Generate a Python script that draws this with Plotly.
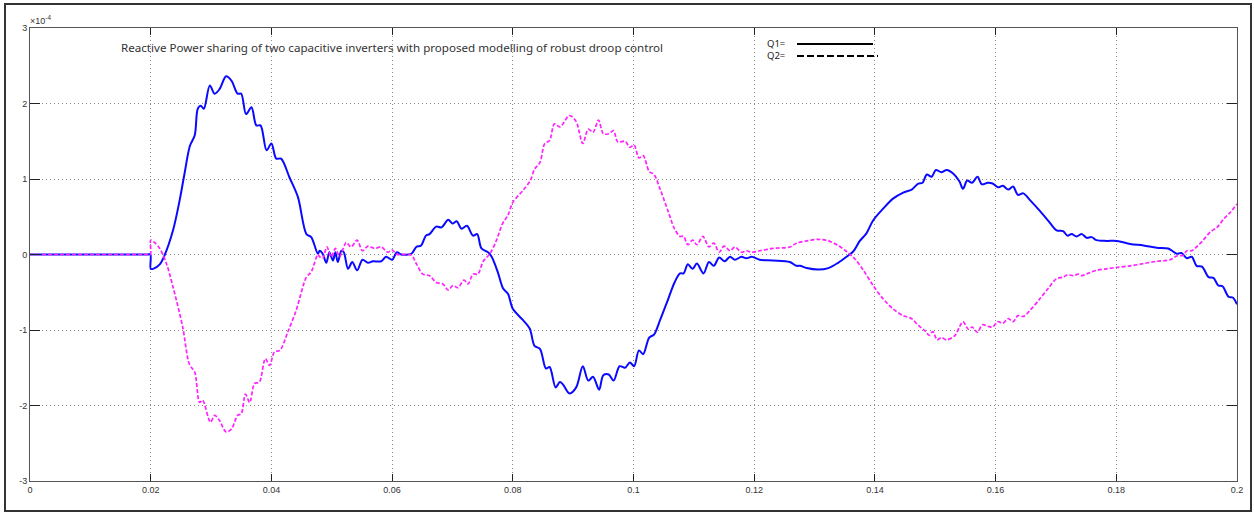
import plotly.graph_objects as go

# ---------------- data (values in units of 1e-4) ----------------
t_q1 = [0.0, 0.005, 0.010, 0.015, 0.0195, 0.01995, 0.0200, 0.0204, 0.0215, 0.0223, 0.0237, 0.0248, 0.0256, 0.0265,
        0.0273, 0.0278, 0.0283, 0.0288, 0.0298, 0.0306, 0.0314, 0.0325, 0.0334, 0.0344,
        0.0350, 0.0358, 0.0367, 0.0375, 0.0382, 0.0392, 0.0400, 0.0408, 0.0416, 0.0430,
        0.0444, 0.0458, 0.0466, 0.0477, 0.0480, 0.0485, 0.0491, 0.0496, 0.0502, 0.0506,
        0.0510, 0.0516, 0.0520, 0.0527, 0.0534, 0.0542, 0.0551, 0.0560, 0.0568, 0.0582,
        0.0590, 0.0600, 0.0608, 0.0615, 0.0632, 0.0640, 0.0648, 0.0656, 0.0662, 0.0673,
        0.0682, 0.0693, 0.0700, 0.0707, 0.0715, 0.0724, 0.0734, 0.0741, 0.0748, 0.0759,
        0.0765, 0.0775, 0.0784, 0.0792, 0.0800, 0.0817, 0.0828, 0.0836, 0.0845, 0.0855,
        0.0861, 0.0871, 0.0878, 0.0883, 0.0894, 0.0905, 0.0916, 0.0925, 0.0933, 0.0943,
        0.0950, 0.0959, 0.0967, 0.0977, 0.0986, 0.0994, 0.1001, 0.1009, 0.1016, 0.1026,
        0.1034, 0.1044, 0.1057, 0.1068, 0.1077, 0.1083, 0.1090, 0.1098, 0.1105, 0.1116,
        0.1125, 0.1133, 0.1142, 0.1151, 0.1160, 0.1168, 0.1179, 0.1187, 0.1196, 0.1209,
        0.1231, 0.1259, 0.1270, 0.1276, 0.1287, 0.1306, 0.1323, 0.1339, 0.1353, 0.1364,
        0.1375, 0.1386, 0.1397, 0.1414, 0.1430, 0.1447, 0.1461, 0.1472, 0.1479, 0.1486,
        0.1494, 0.1501, 0.1510, 0.1519, 0.1530, 0.1540, 0.1546, 0.1553, 0.1561, 0.1570,
        0.1577, 0.1587, 0.1595, 0.1604, 0.1612, 0.1621, 0.1629, 0.1637, 0.1646, 0.1657,
        0.1673, 0.1687, 0.1701, 0.1712, 0.1719, 0.1726, 0.1734, 0.1743, 0.1751, 0.1759,
        0.1767, 0.1784, 0.1801, 0.1823, 0.1845, 0.1867, 0.1886, 0.1894, 0.1900, 0.1908,
        0.1917, 0.1925, 0.1933, 0.1942, 0.1953, 0.1961, 0.1969, 0.1976, 0.1986, 0.1993,
        0.2000]
q1 = [0.0, 0.0, 0.0, 0.0, 0.0, 0.0, -0.19, -0.19, -0.13, -0.01, 0.32, 0.72, 1.07, 1.44,
      1.58, 1.93, 1.97, 1.93, 2.24, 2.13, 2.19, 2.36, 2.30, 2.13,
      2.13, 1.86, 1.95, 1.71, 1.71, 1.38, 1.47, 1.27, 1.27, 1.02,
      0.76, 0.27, 0.23, 0.01, 0.05, 0.01, -0.11, 0.03, -0.08, 0.03,
      -0.10, 0.05, 0.03, -0.19, -0.10, -0.21, -0.07, -0.11, -0.09, -0.09,
      -0.03, -0.07, 0.03, 0.00, 0.01, 0.10, 0.12, 0.25, 0.27, 0.37,
      0.36, 0.46, 0.41, 0.44, 0.34, 0.38, 0.25, 0.27, 0.08, 0.03,
      -0.03, -0.23, -0.45, -0.52, -0.72, -0.87, -0.98, -1.21, -1.25, -1.51,
      -1.49, -1.76, -1.69, -1.72, -1.84, -1.76, -1.48, -1.67, -1.62, -1.79,
      -1.60, -1.59, -1.67, -1.48, -1.50, -1.43, -1.48, -1.27, -1.32, -1.10,
      -1.06, -0.87, -0.60, -0.37, -0.25, -0.25, -0.13, -0.19, -0.12, -0.25,
      -0.10, -0.15, -0.04, -0.09, -0.03, -0.07, -0.03, -0.05, -0.03, -0.07,
      -0.08, -0.10, -0.15, -0.15, -0.18, -0.20, -0.18, -0.11, -0.03, 0.04,
      0.18, 0.28, 0.45, 0.61, 0.74, 0.82, 0.86, 0.94, 0.95, 1.06,
      1.03, 1.12, 1.09, 1.12, 1.07, 0.97, 0.87, 0.98, 0.95, 1.03,
      0.93, 0.95, 0.94, 0.89, 0.91, 0.86, 0.90, 0.79, 0.81, 0.72,
      0.58, 0.45, 0.32, 0.31, 0.25, 0.27, 0.24, 0.27, 0.22, 0.23,
      0.19, 0.18, 0.18, 0.14, 0.12, 0.09, 0.08, 0.04, 0.01, 0.02,
      -0.05, -0.03, -0.15, -0.16, -0.30, -0.31, -0.41, -0.42, -0.56, -0.57,
      -0.66]

t_q2 = [0.0, 0.005, 0.010, 0.015, 0.0195, 0.01995, 0.0200, 0.0206, 0.0215, 0.0226, 0.0237, 0.0253, 0.0264, 0.0273,
        0.0281, 0.0286, 0.0299, 0.0306, 0.0314, 0.0325, 0.0334, 0.0344, 0.0350, 0.0357,
        0.0364, 0.0372, 0.0380, 0.0390, 0.0397, 0.0405, 0.0414, 0.0427, 0.0441, 0.0458,
        0.0466, 0.0477, 0.0480, 0.0485, 0.0492, 0.0499, 0.0506, 0.0513, 0.0519, 0.0524,
        0.0532, 0.0542, 0.0551, 0.0560, 0.0571, 0.0582, 0.0593, 0.0600, 0.0608, 0.0615,
        0.0632, 0.0640, 0.0651, 0.0662, 0.0673, 0.0684, 0.0693, 0.0701, 0.0709, 0.0719,
        0.0726, 0.0734, 0.0742, 0.0751, 0.0762, 0.0773, 0.0783, 0.0792, 0.0800, 0.0817,
        0.0829, 0.0836, 0.0845, 0.0853, 0.0861, 0.0869, 0.0878, 0.0894, 0.0905, 0.0916,
        0.0925, 0.0933, 0.0942, 0.0950, 0.0959, 0.0967, 0.0974, 0.0986, 0.0994, 0.1001,
        0.1009, 0.1016, 0.1026, 0.1034, 0.1044, 0.1057, 0.1068, 0.1077, 0.1083, 0.1090,
        0.1098, 0.1105, 0.1115, 0.1125, 0.1133, 0.1142, 0.1150, 0.1160, 0.1168, 0.1179,
        0.1187, 0.1196, 0.1209, 0.1231, 0.1259, 0.1270, 0.1287, 0.1306, 0.1323, 0.1339,
        0.1353, 0.1367, 0.1381, 0.1397, 0.1414, 0.1430, 0.1447, 0.1461, 0.1472, 0.1483,
        0.1490, 0.1496, 0.1503, 0.1510, 0.1519, 0.1533, 0.1540, 0.1546, 0.1555, 0.1561,
        0.1570, 0.1578, 0.1587, 0.1595, 0.1604, 0.1612, 0.1621, 0.1629, 0.1637, 0.1646,
        0.1657, 0.1673, 0.1687, 0.1701, 0.1712, 0.1719, 0.1729, 0.1737, 0.1743, 0.1753,
        0.1767, 0.1784, 0.1801, 0.1823, 0.1845, 0.1867, 0.1889, 0.1900, 0.1911, 0.1917,
        0.1925, 0.1933, 0.1944, 0.1956, 0.1967, 0.1978, 0.1989, 0.2000]
q2 = [0.0, 0.0, 0.0, 0.0, 0.0, 0.0, 0.19, 0.16, 0.08, -0.12, -0.43, -0.96, -1.45, -1.56,
      -1.96, -1.93, -2.22, -2.13, -2.20, -2.35, -2.31, -2.13, -2.11, -1.85,
      -1.96, -1.71, -1.69, -1.38, -1.47, -1.29, -1.27, -1.03, -0.74, -0.30,
      -0.23, 0.00, -0.03, -0.05, 0.10, -0.03, 0.08, -0.03, 0.08, 0.16,
      0.10, 0.19, 0.05, 0.11, 0.08, 0.10, 0.03, 0.06, 0.00, 0.00,
      -0.01, -0.12, -0.26, -0.28, -0.37, -0.39, -0.47, -0.41, -0.44, -0.34,
      -0.39, -0.26, -0.26, -0.09, 0.01, 0.19, 0.41, 0.52, 0.69, 0.85,
      0.98, 1.13, 1.22, 1.47, 1.51, 1.73, 1.69, 1.84, 1.76, 1.47,
      1.66, 1.62, 1.78, 1.60, 1.60, 1.64, 1.49, 1.50, 1.42, 1.45,
      1.28, 1.31, 1.10, 1.06, 0.87, 0.58, 0.34, 0.24, 0.24, 0.13,
      0.19, 0.13, 0.24, 0.10, 0.15, 0.03, 0.11, 0.05, 0.10, 0.03,
      0.05, 0.03, 0.05, 0.08, 0.10, 0.15, 0.18, 0.20, 0.18, 0.12,
      0.04, -0.06, -0.21, -0.41, -0.59, -0.72, -0.81, -0.85, -0.94, -1.01,
      -1.07, -1.02, -1.13, -1.10, -1.13, -1.07, -0.96, -0.89, -0.99, -0.96,
      -1.03, -0.93, -0.95, -0.96, -0.89, -0.91, -0.85, -0.89, -0.81, -0.82,
      -0.74, -0.59, -0.45, -0.32, -0.30, -0.27, -0.28, -0.26, -0.28, -0.25,
      -0.21, -0.19, -0.17, -0.15, -0.12, -0.09, -0.07, -0.02, -0.01, 0.05,
      0.05, 0.10, 0.19, 0.30, 0.36, 0.47, 0.56, 0.67]

x_ticks = [0, 0.02, 0.04, 0.06, 0.08, 0.1, 0.12, 0.14, 0.16, 0.18, 0.2]
x_tick_labels = ["0", "0.02", "0.04", "0.06", "0.08", "0.1", "0.12", "0.14", "0.16", "0.18", "0.2"]
y_ticks = [-3, -2, -1, 0, 1, 2, 3]
y_tick_labels = ["-3", "-2", "-1", "0", "1", "2", "3"]
title_text = "Reactive Power sharing of two capacitive inverters with proposed modelling of robust droop control"
legend_labels = ["Q1=", "Q2="]
exponent_label = "\u00d710<sup>-4</sup>"

# ---------------- layout geometry ----------------
W, H = 1254, 513
L, R, T, B = 30, 17, 28, 32
pw, ph = W - L - R, H - T - B


def px(x):
    return (x - L) / pw


def py(y):
    return 1 - (y - T) / ph


fig = go.Figure()
fig.add_trace(go.Scatter(
    x=t_q1, y=q1, mode="lines", name="Q1",
    line=dict(color="#0a0aff", width=2, shape="spline", smoothing=0.9),
    showlegend=False, hoverinfo="skip"))
fig.add_trace(go.Scatter(
    x=t_q2, y=q2, mode="lines", name="Q2",
    line=dict(color="#ff22ff", width=1.7, dash="4px,2px", shape="spline", smoothing=0.9),
    showlegend=False, hoverinfo="skip"))

axis_font = dict(family="Liberation Sans, Arial, sans-serif", size=9, color="#333")

fig.update_xaxes(
    range=[0, 0.2], tickvals=x_ticks, ticktext=x_tick_labels,
    showgrid=True, gridcolor="#8a8a8a", griddash="1px,3px", gridwidth=1,
    zeroline=False, showline=True, linecolor="#555", linewidth=1, mirror="ticks",
    ticks="inside", ticklen=7, tickcolor="#222", tickfont=axis_font)
fig.update_yaxes(
    range=[-3, 3], tickvals=y_ticks, ticktext=y_tick_labels,
    showgrid=True, gridcolor="#8a8a8a", griddash="1px,3px", gridwidth=1,
    zeroline=False, showline=True, linecolor="#555", linewidth=1, mirror="ticks",
    ticks="inside", ticklen=10, tickcolor="#222", tickfont=axis_font)

annotations = [
    dict(xref="paper", yref="paper", x=px(119), y=py(47), xanchor="left", yanchor="middle",
         text=title_text, showarrow=False,
         font=dict(family="Noto Sans, sans-serif", size=11.6, color="#333")),
    dict(xref="paper", yref="paper", x=px(28), y=py(28), xanchor="left", yanchor="bottom",
         text=exponent_label, showarrow=False,
         font=dict(family="Liberation Sans, Arial, sans-serif", size=9, color="#333")),
    dict(xref="paper", yref="paper", x=px(765), y=py(44), xanchor="left", yanchor="middle",
         text=legend_labels[0], showarrow=False,
         font=dict(family="Noto Sans, sans-serif", size=9.5, color="#222")),
    dict(xref="paper", yref="paper", x=px(765), y=py(56), xanchor="left", yanchor="middle",
         text=legend_labels[1], showarrow=False,
         font=dict(family="Noto Sans, sans-serif", size=9.5, color="#222")),
]

shapes = [
    # legend samples
    dict(type="line", xref="paper", yref="paper", x0=px(797), x1=px(873), y0=py(44), y1=py(44),
         line=dict(color="black", width=2)),
    dict(type="line", xref="paper", yref="paper", x0=px(797), x1=px(878), y0=py(56), y1=py(56),
         line=dict(color="black", width=2, dash="7px,3px")),
    # outer frame
    dict(type="rect", xref="paper", yref="paper", x0=px(5), x1=px(1251), y0=py(511), y1=py(4),
         line=dict(color="#333", width=2), fillcolor="rgba(0,0,0,0)", layer="below"),
]

fig.update_layout(
    width=W, height=H, autosize=False,
    margin=dict(l=L, r=R, t=T, b=B, pad=0),
    paper_bgcolor="white", plot_bgcolor="white",
    annotations=annotations, shapes=shapes,
    showlegend=False,
)

fig.write_html("out.html")
